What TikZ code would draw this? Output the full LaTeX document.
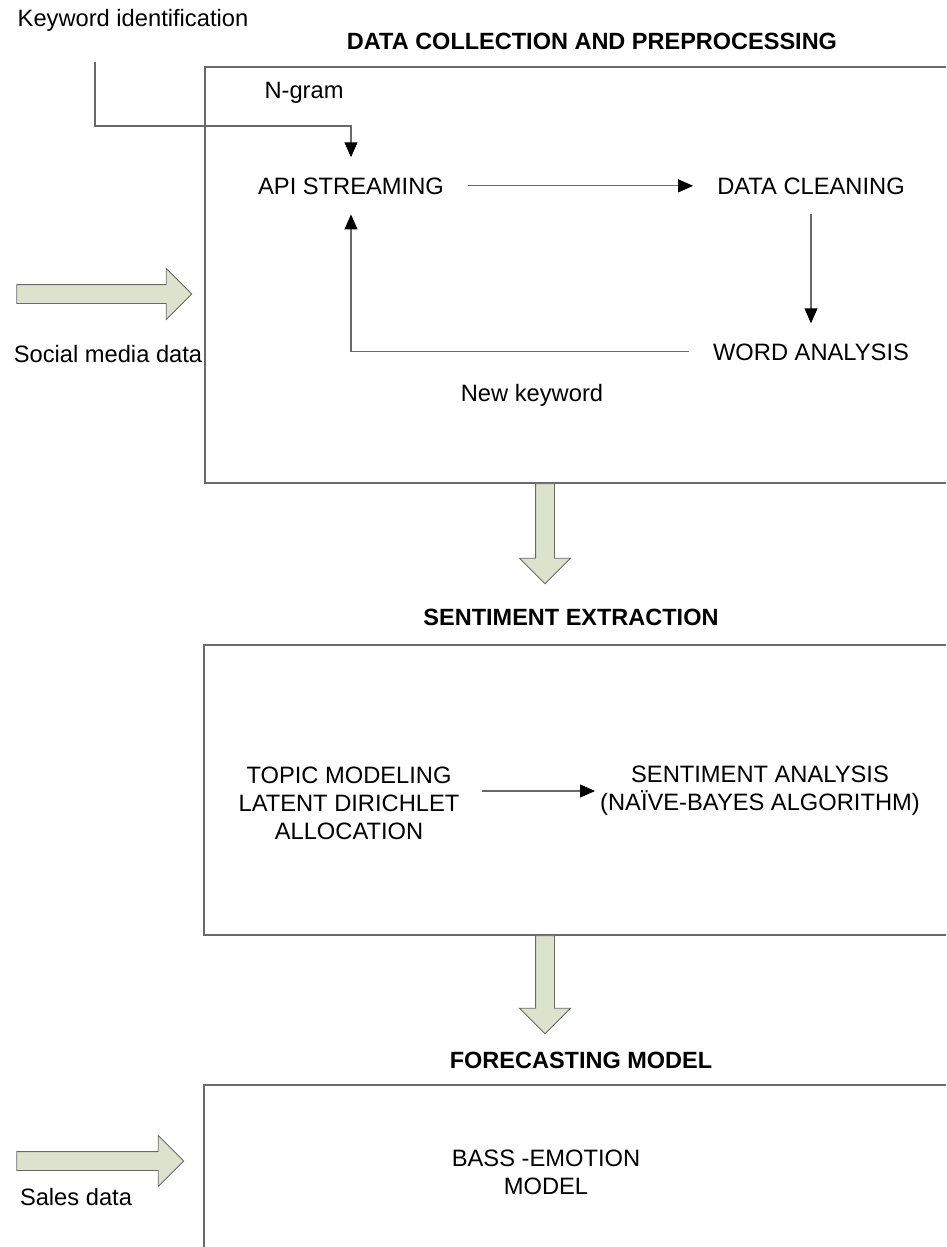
\documentclass[tikz,border=0pt]{standalone}
\usepackage{fontspec}
\setmainfont{Liberation Sans}
\usetikzlibrary{shapes.arrows, arrows.meta, positioning}
\definecolor{arrowfill}{RGB}{221,226,205}
\definecolor{linegray}{RGB}{105,105,105}
\tikzstyle{plaintext} = [font=\fontsize{23.7}{28}\selectfont, inner sep=0pt, anchor=base]
\tikzstyle{heading} = [font=\fontsize{23.5}{28}\selectfont\bfseries, inner sep=0pt, anchor=base]
\tikzstyle{process} = [font=\fontsize{23.7}{28}\selectfont, inner xsep=24pt, inner ysep=20pt, anchor=base]
\tikzstyle{stage} = [rectangle, draw=linegray, line width=1.2pt]
\tikzstyle{fatarrow} = [single arrow, draw=linegray, line width=0.9pt, fill=arrowfill, inner xsep=0pt, inner ysep=9pt, single arrow head extend=16pt, single arrow head indent=0pt]
\tikzstyle{fatarrow_down} = [fatarrow, shape border rotate=270, inner xsep=9pt, inner ysep=0pt]
\tikzstyle{arrow} = [draw=linegray, line width=1.1pt, -{Triangle[length=15pt,width=13pt,color=black]}]

\begin{document}
\begin{tikzpicture}[x=1pt, y=-1pt]
		\useasboundingbox (0,0) rectangle (946,1247);
		\clip (0,0) rectangle (946,1247);
		% stages
		\node (collect) [stage, minimum width=760pt, minimum height=416pt] at (585,275) {};
		\node (extract) [stage, minimum width=760pt, minimum height=290pt] at (584,790) {};
		\node (forecast) [stage, minimum width=760pt, minimum height=180pt] at (584,1175) {};
		\node (collecthead) [heading] at (592,50) {DATA COLLECTION AND PREPROCESSING};
		\node (extracthead) [heading] at (571,625) {SENTIMENT EXTRACTION};
		\node (forecasthead) [heading] at (581,1068) {FORECASTING MODEL};

		% data collection
		\node (keyword) [plaintext] at (133,27) {Keyword identification};
		\node (ngram) [plaintext] at (304,98) {N-gram};
		\node (api) [process] at (351,194) {API STREAMING};
		\node (clean) [process] at (811,194) {DATA CLEANING};
		\node (words) [process] at (811,360) {WORD ANALYSIS};
		\node (newkw) [plaintext] at (532,401) {New keyword};
		\coordinate (kwstart) at (95,62);
		\draw [arrow] (kwstart) -- ++(0,64) -| (api.north);
		\draw [arrow] (api) -- (clean);
		\draw [arrow] (clean) -- (words);
		\draw [arrow] (words.west) -| (api.south);

		\node (socialarrow) [fatarrow, minimum height=175pt] at (99.5,294) {};
		\node (social) [plaintext] at (108,362) {Social media data};

		% sentiment extraction
		\node (downone) [fatarrow_down, minimum height=100pt] at (545,529) {};
		\node (topic) [plaintext, align=center, anchor=center, inner xsep=22pt] at (349,803) {TOPIC MODELING\\LATENT DIRICHLET\\ALLOCATION};
		\node (sentiment) [plaintext, align=center, anchor=center, inner xsep=5pt] at (760,791) {SENTIMENT ANALYSIS\\(NAÏVE-BAYES ALGORITHM)};
		\draw [arrow] (topic.east |- sentiment.west) -- (sentiment.west);

		% forecasting
		\node (downtwo) [fatarrow_down, minimum height=98pt] at (545,980) {};
		\node (salesarrow) [fatarrow, minimum height=167pt] at (95.5,1161) {};
		\node (sales) [plaintext] at (76,1205) {Sales data};
		\node (bass) [plaintext, align=center, anchor=center] at (546,1172) {BASS -EMOTION\\MODEL};
	\end{tikzpicture}
\end{document}
